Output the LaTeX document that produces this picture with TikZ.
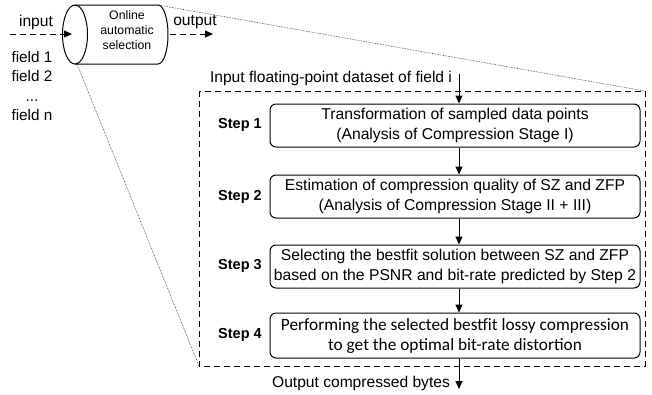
\documentclass[tikz,border=0pt]{standalone}
\usepackage{fontspec}
\setmainfont{Liberation Sans}
\newfontfamily\calib{Carlito}
\usetikzlibrary{arrows.meta,calc}
\begin{document}
\begin{tikzpicture}[x=1pt,y=-1pt,
  stepbox/.style={draw, rounded corners=6pt, minimum width=370pt, minimum height=43pt, align=center, inner sep=0pt, font=\fontsize{15.7}{20}\selectfont, line width=1pt},
  steplabel/.style={font=\bfseries\fontsize{14.5}{16}\selectfont},
  txt/.style={font=\fontsize{15.6}{20}\selectfont, inner sep=0pt},
  arr/.style={-{Triangle[length=8pt,width=7pt]}, line width=1pt},
  darr/.style={arr, dash pattern=on 6pt off 4pt},
  dotline/.style={densely dotted, line width=0.6pt, black!85},
  frame/.style={draw, dash pattern=on 6pt off 4pt, line width=1pt}]
\useasboundingbox (0,0) rectangle (652,394);

% cylinder
\draw[line width=1pt] (75,34.5) ellipse [x radius=12.5, y radius=29.5];
\draw[line width=1pt] (75,5) -- (158,5) arc[start angle=-90, end angle=90, x radius=10, y radius=29.5] -- (75,64);
\node[align=center, font=\fontsize{12.3}{15}\selectfont, inner sep=0pt] (cyl) at (127,30) {Online\\automatic\\selection};
\coordinate (ctop) at (158,5);
\coordinate (cbot) at (77,64);

% input / output
\coordinate (inS) at (10,34);
\coordinate (inE) at (72,34);
\coordinate (outS) at (170,34);
\coordinate (outE) at (213,34);
\draw[darr] (inS) -- (inE);
\draw[darr] (outS) -- (outE);
\node[txt] (inlbl) at (36,22) {input};
\node[txt] (outlbl) at (195,22) {output};
\node[txt, align=center, font=\fontsize{15.3}{19.3}\selectfont] (fields) at (32,86) {field 1\\field 2\\...\\field n};

% dashed frame
\coordinate (fTL) at (199,91);
\coordinate (fBR) at (645,366);
\draw[frame] (fTL) rectangle (fBR);
\coordinate (fTR) at (645,91);
\coordinate (fBL) at (199,366);
\draw[dotline] (ctop) -- (fTR);
\draw[dotline] (cbot) -- (fBL);

% steps
\node[stepbox] (s1) at (455,125.5) {Transformation of sampled data points\\(Analysis of Compression Stage I)};
\node[stepbox] (s2) at (455,196.5) {Estimation of compression quality of SZ and ZFP\\(Analysis of Compression Stage II + III)};
\node[stepbox] (s3) at (455,266.5) {Selecting the bestfit solution between SZ and ZFP\\based on the PSNR and bit-rate predicted by Step 2};
\node[stepbox, minimum height=45pt, font=\calib\fontsize{17.3}{20}\selectfont] (s4) at (455,335.5) {Performing the selected bestfit lossy compression\\to get the optimal bit-rate distortion};

\node[steplabel] (l1) at (240,125) {Step 1};
\node[steplabel] (l2) at (240,197) {Step 2};
\node[steplabel] (l3) at (240,266) {Step 3};
\node[steplabel] (l4) at (240,335) {Step 4};

\coordinate (ax) at (459,0);
\node[txt] (inds) at (331,78) {Input floating-point dataset of field i};
\coordinate (inA) at (459,74);
\draw[arr] (inA) -- (s1.north -| ax);
\draw[arr] (s1.south -| ax) -- (s2.north -| ax);
\draw[arr] (s2.south -| ax) -- (s3.north -| ax);
\draw[arr] (s3.south -| ax) -- (s4.north -| ax);
\coordinate (outA) at (459,389);
\draw[arr] (s4.south -| ax) -- (outA);
\node[txt] (outds) at (361,383) {Output compressed bytes};
\end{tikzpicture}
\end{document}
